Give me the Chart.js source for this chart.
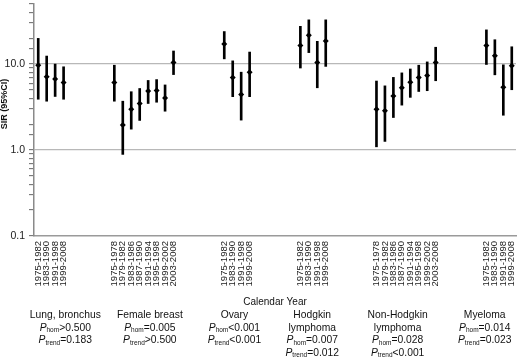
<!DOCTYPE html>
<html>
<head>
<meta charset="utf-8">
<script src="https://cdn.jsdelivr.net/npm/chart.js@4.4.1/dist/chart.umd.min.js"></script>
<style>
  html, body { margin: 0; padding: 0; background: #fff; }
  #wrap { width: 520px; height: 359px; }
</style>
</head>
<body>
<div id="wrap"><canvas id="sirChart"></canvas></div>
<script>
// calendar periods per cancer site
const periodsShort = ['1975-1982', '1983-1990', '1991-1998', '1999-2008'];
const periodsLong = ['1975-1978', '1979-1982', '1983-1986', '1987-1990', '1991-1994', '1995-1998', '1999-2002', '2003-2008'];

// SIR with 95% CI
const lungSir = [9.7, 7.1, 6.7, 6.1];
const lungLow = [3.9, 3.7, 4.2, 3.9];
const lungHigh = [19.9, 12.4, 10.0, 9.3];

const breastSir = [6.1, 1.96, 2.98, 3.48, 4.85, 4.93, 4.04, 10.45];
const breastLow = [3.7, 0.89, 1.75, 2.21, 3.48, 3.6, 2.83, 7.55];
const breastHigh = [9.7, 3.7, 4.77, 5.2, 6.45, 6.6, 5.72, 14.2];

const ovarySir = [17.1, 7.0, 4.44, 8.05];
const ovaryLow = [11.5, 4.18, 2.23, 4.18];
const ovaryHigh = [23.9, 10.9, 8.05, 13.8];

const hodgkinSir = [16.4, 21.6, 10.45, 18.6];
const hodgkinLow = [9.0, 13.6, 5.3, 9.4];
const hodgkinHigh = [27.5, 32.7, 18.4, 32.7];

const nhlSir = [2.98, 2.87, 4.25, 5.3, 6.13, 7.0, 7.37, 10.45];
const nhlLow = [1.09, 1.26, 2.39, 3.33, 4.1, 4.8, 4.9, 6.4];
const nhlHigh = [6.35, 5.58, 7.0, 7.9, 8.77, 9.7, 10.6, 15.7];

const myelomaSir = [16.4, 12.5, 5.38, 9.57];
const myelomaLow = [9.9, 7.5, 2.54, 5.03];
const myelomaHigh = [25.0, 19.2, 9.8, 15.9];

const siteNames = [['Lung, bronchus'], ['Female breast'], ['Ovary'], ['Hodgkin', 'lymphoma'], ['Non-Hodgkin', 'lymphoma'], ['Myeloma']];
const pHom = ['>0.500', '=0.005', '<0.001', '=0.007', '=0.028', '=0.014'];
const pTrend = ['=0.183', '>0.500', '<0.001', '=0.012', '<0.001', '=0.023'];

// where the text block under each site is centred, in category units
const siteLabelAt = [3.2, 13.2, 23.2, 32.4, 42.5, 52.8];
const gapSlots = 5;

const groups = [
  { periods: periodsShort, sir: lungSir, low: lungLow, high: lungHigh },
  { periods: periodsLong, sir: breastSir, low: breastLow, high: breastHigh },
  { periods: periodsShort, sir: ovarySir, low: ovaryLow, high: ovaryHigh },
  { periods: periodsShort, sir: hodgkinSir, low: hodgkinLow, high: hodgkinHigh },
  { periods: periodsLong, sir: nhlSir, low: nhlLow, high: nhlHigh },
  { periods: periodsShort, sir: myelomaSir, low: myelomaLow, high: myelomaHigh }
];

// flatten into one category axis with empty slots between sites
const labels = [];
const points = [];
const bars = [];
groups.forEach((g, gi) => {
  if (gi > 0) {
    for (let k = 0; k < gapSlots; k++) {
      labels.push('');
      points.push(null);
      bars.push(null);
    }
  }
  g.periods.forEach((p, i) => {
    labels.push(p);
    points.push(g.sir[i]);
    bars.push([g.low[i], g.high[i]]);
  });
});

const fontFamily = '"Liberation Sans", Arial, sans-serif';

function isDecade(v) {
  const l = Math.log10(v);
  return Math.abs(l - Math.round(l)) < 1e-9;
}

const extraText = {
  id: 'extraText',
  afterDraw(chart) {
    const ctx = chart.ctx;
    const area = chart.chartArea;
    const xs = chart.scales.x;
    ctx.save();
    ctx.fillStyle = '#111';

    // y title
    ctx.save();
    ctx.translate(5, 104);
    ctx.rotate(-Math.PI / 2);
    ctx.font = 'bold 9px ' + fontFamily;
    ctx.textAlign = 'center';
    ctx.textBaseline = 'middle';
    ctx.fillText('SIR (95%CI)', 0, 0);
    ctx.restore();

    // x title
    ctx.font = '10px ' + fontFamily;
    ctx.textAlign = 'center';
    ctx.textBaseline = 'middle';
    ctx.fillText('Calendar Year', (area.left + area.right) / 2, area.bottom + 66);

    // site names and P values
    const lineGap = 12.7;
    siteNames.forEach((name, i) => {
      const cx = xs.getPixelForValue(0) + siteLabelAt[i] * (xs.getPixelForValue(1) - xs.getPixelForValue(0));
      let y = area.bottom + 79;
      ctx.font = '10.3px ' + fontFamily;
      ctx.textAlign = 'center';
      name.forEach(line => {
        ctx.fillText(line, cx, y);
        y += lineGap;
      });
      drawP(ctx, cx, y, 'hom', pHom[i]);
      y += lineGap;
      drawP(ctx, cx, y, 'trend', pTrend[i]);
    });
    ctx.restore();
  }
};

function drawP(ctx, cx, y, sub, rest) {
  const fP = 'italic 10.3px ' + fontFamily;
  const fSub = '6.5px ' + fontFamily;
  const fRest = '10.3px ' + fontFamily;
  ctx.font = fP; const wP = ctx.measureText('P').width;
  ctx.font = fSub; const wS = ctx.measureText(sub).width;
  ctx.font = fRest; const wR = ctx.measureText(rest).width;
  let x = cx - (wP + wS + wR) / 2;
  ctx.textAlign = 'left';
  ctx.font = fP; ctx.fillText('P', x, y); x += wP;
  ctx.font = fSub; ctx.fillText(sub, x, y + 2.5); x += wS;
  ctx.font = fRest; ctx.fillText(rest, x, y);
  ctx.textAlign = 'center';
}

new Chart(document.getElementById('sirChart'), {
  data: {
    labels: labels,
    datasets: [
      {
        type: 'line',
        label: 'SIR',
        data: points,
        showLine: false,
        pointStyle: 'rectRot',
        pointRadius: 3,
        backgroundColor: '#000',
        borderColor: '#000',
        borderWidth: 0,
        order: 1
      },
      {
        type: 'bar',
        label: '95% CI',
        data: bars,
        backgroundColor: '#000',
        barThickness: 2,
        grouped: false,
        order: 2
      }
    ]
  },
  options: {
    responsive: true,
    maintainAspectRatio: false,
    animation: false,
    layout: { padding: 0 },
    plugins: {
      legend: { display: false },
      tooltip: { enabled: false }
    },
    scales: {
      x: {
        type: 'category',
        offset: true,
        grid: { display: false, drawTicks: false },
        border: { color: '#9a9a9a', width: 1.5 },
        ticks: {
          autoSkip: false,
          minRotation: 90,
          maxRotation: 90,
          padding: 5,
          color: '#222',
          font: { family: fontFamily, size: 9.5 }
        },
        afterFit(s) {
          s.height = 123;
          s.paddingLeft = 0;
          s.paddingRight = 0;
        }
      },
      y: {
        type: 'logarithmic',
        min: 0.1,
        max: 50,
        border: { color: '#8a8a8a', width: 1.5 },
        grid: {
          color: c => (isDecade(c.tick.value) && c.tick.value > 0.15) ? '#b8b8b8' : 'rgba(0,0,0,0)',
          lineWidth: 1.3,
          tickColor: '#666',
          tickLength: 5,
          tickWidth: 1
        },
        ticks: {
          autoSkip: false,
          padding: 4,
          color: '#222',
          font: { family: fontFamily, size: 10.5 },
          callback: v => isDecade(v) ? Number(v).toFixed(1) : ''
        },
        afterFit(s) {
          s.width = 34;
          s.paddingTop = 0;
          s.paddingBottom = 0;
        }
      }
    }
  },
  plugins: [extraText]
});
</script>
</body>
</html>
